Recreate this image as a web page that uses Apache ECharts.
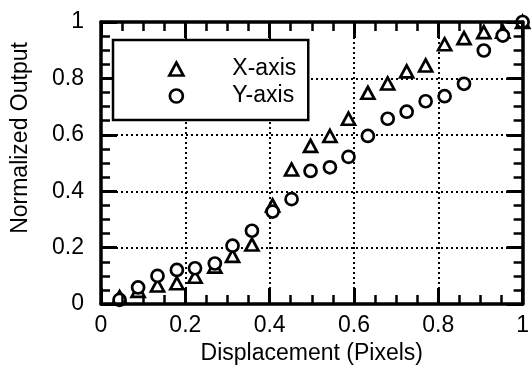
<!DOCTYPE html>
<html>
<head>
<meta charset="utf-8">
<script src="https://cdn.jsdelivr.net/npm/echarts@6/dist/echarts.min.js"></script>
<style>html,body{margin:0;padding:0;background:#fff;}#c{width:532px;height:370px;}</style>
</head>
<body>
<div id="c"></div>
<script>
var displacement = [0.044, 0.088, 0.134, 0.18, 0.223, 0.27, 0.312, 0.358, 0.407, 0.452, 0.497, 0.543, 0.587, 0.633, 0.68, 0.725, 0.77, 0.815, 0.861, 0.908, 0.953, 1.0];
var xAxisOutput = [0.025, 0.047, 0.066, 0.074, 0.097, 0.133, 0.171, 0.211, 0.35, 0.477, 0.561, 0.596, 0.657, 0.749, 0.782, 0.825, 0.846, 0.921, 0.943, 0.964, 0.966, 1.0];
var yAxisOutput = [0.015, 0.059, 0.10, 0.121, 0.127, 0.144, 0.207, 0.26, 0.328, 0.372, 0.472, 0.485, 0.522, 0.596, 0.657, 0.682, 0.719, 0.737, 0.781, 0.899, 0.952, 1.0];
var seriesNames = ['X-axis', 'Y-axis'];
var xTitle = 'Displacement (Pixels)';
var yTitle = 'Normalized Output';

function pairs(xs, ys) { return xs.map(function (x, i) { return [x, ys[i]]; }); }

var FONT = '"Liberation Sans", Arial, Helvetica, sans-serif';
var chart = echarts.init(document.getElementById('c'), null, { renderer: 'canvas' });

function axisBase(pos, showLabel) {
  return {
    type: 'value', position: pos, min: 0, max: 1, interval: 0.2, z: 5,
    axisLine: { show: true, onZero: false, lineStyle: { color: '#000', width: 3.5 } },
    axisTick: { show: true, inside: true, length: 16, lineStyle: { color: '#000', width: 3 } },
    minorTick: { show: true, splitNumber: 4, length: 9, lineStyle: { color: '#000', width: 2.5 } },
    splitLine: { show: false },
    minorSplitLine: { show: false },
    axisLabel: {
      show: showLabel, color: '#000', fontFamily: FONT, fontSize: 23,
      formatter: function (v) { return v === 0 ? '0' : v === 1 ? '1' : String(+v.toFixed(1)); }
    }
  };
}

function gridAxis(pos) {
  return {
    type: 'value', position: pos, min: 0, max: 1, interval: 0.2, z: 0,
    axisLine: { show: false, onZero: false }, axisTick: { show: false },
    axisLabel: { show: false }, minorTick: { show: false },
    splitLine: { show: true, lineStyle: { color: '#000', width: 2, type: [2, 3] } }
  };
}

var xa = axisBase('bottom', true);
xa.axisLabel.margin = 10;
xa.name = xTitle; xa.nameLocation = 'middle'; xa.nameGap = 37;
xa.nameTextStyle = { color: '#000', fontFamily: FONT, fontSize: 23 };
var xa2 = axisBase('top', false);
var ya = axisBase('left', true);
ya.axisLabel.margin = 17;
var ya2 = axisBase('right', false);

var symStyle = { color: '#fff', borderColor: '#000', borderWidth: 2.7, opacity: 1 };

chart.setOption({
  animation: false,
  backgroundColor: '#fff',
  grid: { left: 101, right: 4, top: 22, bottom: 64.5 },
  xAxis: [xa, xa2, gridAxis('bottom')],
  yAxis: [ya, ya2, gridAxis('left')],
  legend: {
    orient: 'vertical', left: 113, top: 40,
    backgroundColor: '#fff', borderColor: '#000', borderWidth: 2.5,
    padding: [17, 12, 12, 55],
    itemWidth: 14, itemHeight: 13, itemGap: 3,
    textStyle: { color: '#000', fontFamily: FONT, fontSize: 23, lineHeight: 24, padding: [0, 0, 0, 44] },
    data: [
      { name: seriesNames[0], icon: 'triangle', itemStyle: symStyle },
      { name: seriesNames[1], icon: 'circle', itemStyle: symStyle }
    ],
    z: 10
  },
  graphic: [{
    type: 'text', x: 21, y: 138, rotation: Math.PI / 2,
    style: { text: yTitle, fill: '#000', font: '23px ' + FONT, textAlign: 'center', textVerticalAlign: 'middle' }
  }],
  series: [
    {
      name: seriesNames[0], type: 'scatter', xAxisIndex: 0, yAxisIndex: 0,
      symbol: 'triangle', symbolSize: [13, 12], itemStyle: symStyle,
      data: pairs(displacement, xAxisOutput), clip: false, z: 3
    },
    {
      name: seriesNames[1], type: 'scatter', xAxisIndex: 0, yAxisIndex: 0,
      symbol: 'circle', symbolSize: 12, itemStyle: symStyle,
      data: pairs(displacement, yAxisOutput), clip: false, z: 4
    }
  ]
});
</script>
</body>
</html>
